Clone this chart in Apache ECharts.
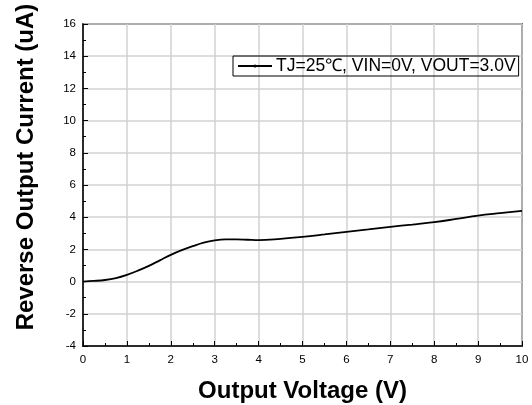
<!DOCTYPE html>
<html>
<head>
<meta charset="utf-8">
<style>
  html, body { margin: 0; padding: 0; background: #fff; }
  #chart { width: 532px; height: 405px; }
</style>
<script src="https://cdn.jsdelivr.net/npm/echarts@6/dist/echarts.min.js"></script>
</head>
<body>
<div id="chart"></div>
<script>
const voltage = [0, 0.25, 0.5, 0.75, 1, 1.25, 1.5, 1.75, 2, 2.25, 2.5, 2.75, 3, 3.25, 3.5, 3.75, 4, 4.5, 5, 5.5, 6, 6.5, 7, 7.5, 8, 8.5, 9, 9.5, 10]
const current = [0, 0.04, 0.1, 0.22, 0.42, 0.68, 0.98, 1.32, 1.66, 1.95, 2.2, 2.42, 2.56, 2.62, 2.62, 2.6, 2.58, 2.66, 2.78, 2.93, 3.09, 3.24, 3.4, 3.54, 3.69, 3.89, 4.1, 4.25, 4.39]
const seriesName = 'TJ=25℃, VIN=0V, VOUT=3.0V'

const font = 'Arial, "Liberation Sans", sans-serif'
const chart = echarts.init(document.getElementById('chart'))

const axisCommon = {
  axisLine: { show: true, onZero: false, lineStyle: { color: '#000', width: 1.5 } },
  axisTick: { show: true, inside: true, length: 5, lineStyle: { color: '#000' } },
  minorTick: { show: true, splitNumber: 2, length: 3, lineStyle: { color: '#000' } },
  splitLine: { show: true, lineStyle: { color: '#d2d2d2', width: 1.5 } },
  axisLabel: { color: '#000', fontSize: 11.5, fontFamily: font },
  nameTextStyle: { color: '#000', fontSize: 24, fontWeight: 'bold', fontFamily: font }
}

chart.setOption({
  animation: false,
  grid: {
    left: 83, right: 10, top: 24, bottom: 59,
    outerBoundsMode: 'none',
    show: true, borderColor: '#000', borderWidth: 1.5
  },
  legend: {
    left: 233,
    top: 56,
    padding: [1, 3, 1, 4],
    borderColor: '#000',
    borderWidth: 1,
    itemWidth: 34,
    itemHeight: 4,
    itemGap: 0,
    textStyle: { color: '#000', fontSize: 17.5, fontFamily: font, padding: [0, 0, 0, -1] },
    data: [seriesName]
  },
  xAxis: {
    ...axisCommon,
    type: 'value',
    min: 0,
    max: 10,
    interval: 1,
    name: 'Output Voltage (V)',
    nameLocation: 'middle',
    nameGap: 33,
    axisLabel: { ...axisCommon.axisLabel, margin: 8 }
  },
  yAxis: {
    ...axisCommon,
    type: 'value',
    min: -4,
    max: 16,
    interval: 2,
    name: 'Reverse Output Current (uA)',
    nameLocation: 'middle',
    nameGap: 45,
    nameTextStyle: { ...axisCommon.nameTextStyle, padding: [0, 0, 0, 36] },
    axisLabel: { ...axisCommon.axisLabel, margin: 7 }
  },
  series: [
    {
      name: seriesName,
      type: 'line',
      data: voltage.map((v, i) => [v, current[i]]),
      smooth: 0.4,
      symbol: 'circle',
      symbolSize: 3,
      showSymbol: false,
      itemStyle: { color: '#000' },
      lineStyle: { color: '#000', width: 1.8 }
    }
  ]
})
</script>
</body>
</html>
